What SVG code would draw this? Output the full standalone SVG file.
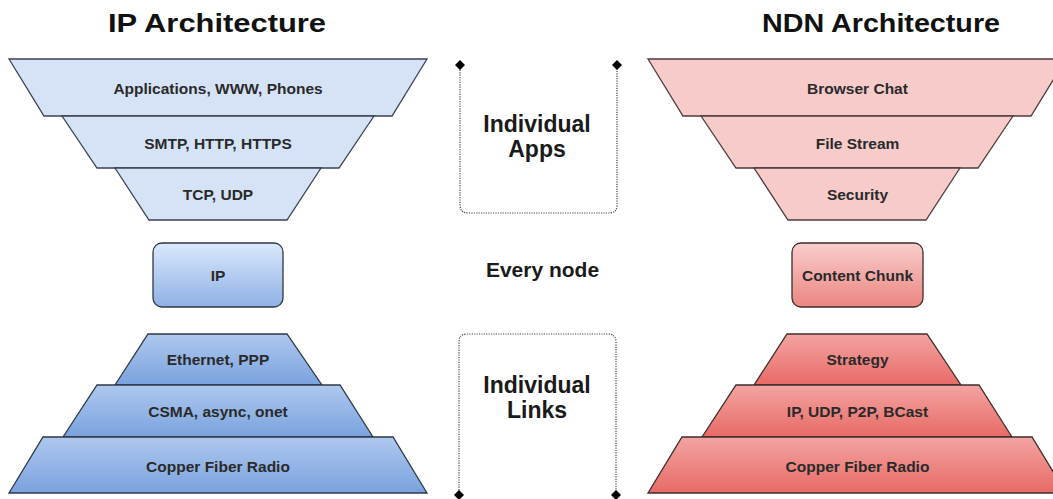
<svg xmlns="http://www.w3.org/2000/svg" width="1053" height="499" viewBox="0 0 1053 499">
<style>
  .lbl { font-family: "Liberation Sans", Arial, sans-serif; font-size: 15.5px; font-weight: bold; fill: #2a2a2a; text-anchor: middle; }
  .title { font-family: "Liberation Sans", Arial, sans-serif; font-size: 26px; font-weight: bold; fill: #111; text-anchor: middle; }
  .mid { font-family: "Liberation Sans", Arial, sans-serif; font-size: 23px; font-weight: bold; fill: #1a1a1a; text-anchor: middle; }
  .mid2 { font-family: "Liberation Sans", Arial, sans-serif; font-size: 21px; font-weight: bold; fill: #1a1a1a; text-anchor: middle; }
  .ipTop { fill: #d6e3f7; stroke: #3a4350; stroke-width: 1.3; }
  .ipBot { fill: url(#gBlueBot); stroke: #2f3845; stroke-width: 1.3; }
  .ipMid { fill: url(#gBlueMid); stroke: #2f3845; stroke-width: 1.3; }
  .ndnTop { fill: #f6cbca; stroke: #4e3c3c; stroke-width: 1.3; }
  .ndnBot { fill: url(#gRedBot); stroke: #3f2c2c; stroke-width: 1.3; }
  .ndnMid { fill: url(#gRedMid); stroke: #3f2c2c; stroke-width: 1.3; }
  .conn { fill: none; stroke: #444; stroke-width: 1.2; stroke-dasharray: 1.2 1.2; marker-start: url(#dia); marker-end: url(#dia); }
</style>
<defs>
  <linearGradient id="gBlueMid" x1="0" y1="0" x2="0" y2="1">
    <stop offset="0" stop-color="#dae8fc"/>
    <stop offset="1" stop-color="#8fb1e4"/>
  </linearGradient>
  <linearGradient id="gBlueBot" x1="0" y1="0" x2="0" y2="1">
    <stop offset="0" stop-color="#aec8ef"/>
    <stop offset="1" stop-color="#7aa2de"/>
  </linearGradient>
  <linearGradient id="gRedMid" x1="0" y1="0" x2="0" y2="1">
    <stop offset="0" stop-color="#f8cecc"/>
    <stop offset="1" stop-color="#ec8581"/>
  </linearGradient>
  <linearGradient id="gRedBot" x1="0" y1="0" x2="0" y2="1">
    <stop offset="0" stop-color="#f3a4a2"/>
    <stop offset="1" stop-color="#e86a66"/>
  </linearGradient>
  <marker id="dia" viewBox="0 0 10 10" refX="5" refY="5" markerWidth="10" markerHeight="10" markerUnits="userSpaceOnUse" orient="auto">
    <path d="M0,5 L5,0 L10,5 L5,10 Z" fill="#000"/>
  </marker>
</defs>

<g id="titles">
  <text class="title" x="217" y="32" textLength="218" lengthAdjust="spacingAndGlyphs">IP Architecture</text>
  <text class="title" x="881" y="32" textLength="238" lengthAdjust="spacingAndGlyphs">NDN Architecture</text>
</g>

<g id="connectors">
  <path class="conn" d="M460,65 V205 Q460,213 468,213 H609 Q617,213 617,205 V65"/>
  <path class="conn" d="M459,495 V342 Q459,334 467,334 H608 Q616,334 616,342 V495"/>
</g>

<g id="ip-apps">
  <polygon class="ipTop" points="9,59 427,59 392,116 44,116"/>
  <text class="lbl" x="218" y="93.5">Applications, WWW, Phones</text>
</g>
<g id="ip-smtp">
  <polygon class="ipTop" points="62,116 374,116 339,168 97,168"/>
  <text class="lbl" x="218" y="148.5">SMTP, HTTP, HTTPS</text>
</g>
<g id="ip-tcp">
  <polygon class="ipTop" points="115,168 321,168 287,220 149,220"/>
  <text class="lbl" x="218" y="200">TCP, UDP</text>
</g>
<g id="ip-ip">
  <rect class="ipMid" x="153" y="243" width="130" height="64" rx="9" ry="9"/>
  <text class="lbl" x="218" y="281">IP</text>
</g>
<g id="ip-ethernet">
  <polygon class="ipBot" points="148,334 287,334 322,385 115,385"/>
  <text class="lbl" x="218" y="365">Ethernet, PPP</text>
</g>
<g id="ip-csma">
  <polygon class="ipBot" points="97,385 340,385 373,437 63,437"/>
  <text class="lbl" x="218" y="417">CSMA, async, onet</text>
</g>
<g id="ip-copper">
  <polygon class="ipBot" points="43,437 393,437 427,493 9,493"/>
  <text class="lbl" x="218" y="472">Copper Fiber Radio</text>
</g>

<g id="mid-apps">
  <text class="mid" x="537" y="132">Individual</text>
  <text class="mid" x="537" y="157">Apps</text>
</g>
<g id="mid-every">
  <text class="mid2" x="542.5" y="277">Every node</text>
</g>
<g id="mid-links">
  <text class="mid" x="537" y="393">Individual</text>
  <text class="mid" x="537" y="418">Links</text>
</g>

<g id="ndn-browser">
  <polygon class="ndnTop" points="648,59 1066,59 1031,116 683,116"/>
  <text class="lbl" x="857.5" y="93.5">Browser Chat</text>
</g>
<g id="ndn-file">
  <polygon class="ndnTop" points="701,116 1013,116 978,168 736,168"/>
  <text class="lbl" x="857.5" y="148.5">File Stream</text>
</g>
<g id="ndn-security">
  <polygon class="ndnTop" points="754,168 960,168 926,220 788,220"/>
  <text class="lbl" x="857.5" y="200">Security</text>
</g>
<g id="ndn-chunk">
  <rect class="ndnMid" x="792" y="243" width="131" height="64" rx="9" ry="9"/>
  <text class="lbl" x="857.5" y="281">Content Chunk</text>
</g>
<g id="ndn-strategy">
  <polygon class="ndnBot" points="787,334 927,334 961,385 754,385"/>
  <text class="lbl" x="857.5" y="365">Strategy</text>
</g>
<g id="ndn-ipudp">
  <polygon class="ndnBot" points="736,385 979,385 1012,437 702,437"/>
  <text class="lbl" x="857.5" y="417">IP, UDP, P2P, BCast</text>
</g>
<g id="ndn-copper">
  <polygon class="ndnBot" points="682,437 1032,437 1066,493 648,493"/>
  <text class="lbl" x="857.5" y="472">Copper Fiber Radio</text>
</g>
</svg>
